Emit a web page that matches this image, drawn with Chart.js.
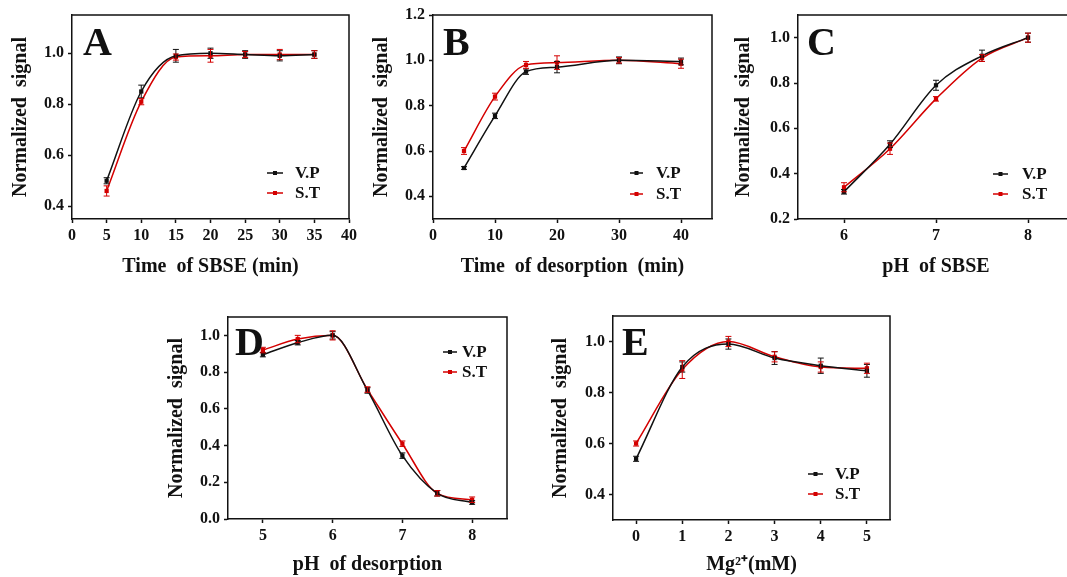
<!DOCTYPE html>
<html>
<head>
<meta charset="utf-8">
<script src="https://cdn.jsdelivr.net/npm/chart.js@4.4.1/dist/chart.umd.min.js"></script>
<style>
  html, body { margin: 0; padding: 0; background: #fff; overflow: hidden; }
  body { width: 1067px; height: 577px; position: relative; }
  .panel { position: absolute; }
</style>
</head>
<body>
<div class="panel" style="left:0px;top:0px;width:360px;height:290px"><canvas id="chartA"></canvas></div>
<div class="panel" style="left:360px;top:0px;width:360px;height:290px"><canvas id="chartB"></canvas></div>
<div class="panel" style="left:715px;top:0px;width:370px;height:290px"><canvas id="chartC"></canvas></div>
<div class="panel" style="left:160px;top:300px;width:360px;height:277px"><canvas id="chartD"></canvas></div>
<div class="panel" style="left:540px;top:300px;width:380px;height:277px"><canvas id="chartE"></canvas></div>

<script>
// Panel A - time of SBSE
const sbseTime = [5, 10, 15, 20, 25, 30, 35];
const sbseTimeVP = [0.50, 0.85, 0.99, 1.00, 0.995, 0.99, 0.995];
const sbseTimeVPErr = [0.012, 0.025, 0.025, 0.02, 0.015, 0.02, 0.015];
const sbseTimeST = [0.46, 0.81, 0.985, 0.99, 0.995, 0.995, 0.995];
const sbseTimeSTErr = [0.02, 0.012, 0.012, 0.025, 0.012, 0.02, 0.015];
const ticksXA = [0, 5, 10, 15, 20, 25, 30, 35, 40];
const ticksYA = [0.4, 0.6, 0.8, 1.0];

// Panel B - time of desorption
const desTime = [5, 10, 15, 20, 30, 40];
const desTimeVP = [0.525, 0.755, 0.95, 0.97, 1.0, 0.995];
const desTimeVPErr = [0.006, 0.012, 0.012, 0.025, 0.015, 0.015];
const desTimeST = [0.60, 0.84, 0.98, 0.99, 1.0, 0.985];
const desTimeSTErr = [0.015, 0.015, 0.015, 0.03, 0.012, 0.02];
const ticksXB = [0, 10, 20, 30, 40];
const ticksYB = [0.4, 0.6, 0.8, 1.0, 1.2];

// Panel C - pH of SBSE
const sbsePH = [6, 6.5, 7, 7.5, 8];
const sbsePHVP = [0.32, 0.53, 0.79, 0.92, 1.0];
const sbsePHVPErr = [0.01, 0.015, 0.022, 0.025, 0.02];
const sbsePHST = [0.34, 0.51, 0.73, 0.91, 1.0];
const sbsePHSTErr = [0.02, 0.025, 0.01, 0.015, 0.02];
const ticksXC = [6, 7, 8];
const ticksYC = [0.2, 0.4, 0.6, 0.8, 1.0];

// Panel D - pH of desorption
const desPH = [5, 5.5, 6, 6.5, 7, 7.5, 8];
const desPHVP = [0.895, 0.96, 1.0, 0.70, 0.345, 0.14, 0.09];
const desPHVPErr = [0.012, 0.012, 0.02, 0.015, 0.015, 0.015, 0.01];
const desPHST = [0.92, 0.98, 1.0, 0.705, 0.41, 0.14, 0.105];
const desPHSTErr = [0.015, 0.02, 0.025, 0.015, 0.015, 0.015, 0.015];
const ticksXD = [5, 6, 7, 8];
const ticksYD = [0.0, 0.2, 0.4, 0.6, 0.8, 1.0];

// Panel E - Mg2+
const mgConc = [0, 1, 2, 3, 4, 5];
const mgVP = [0.54, 0.90, 0.99, 0.935, 0.905, 0.885];
const mgVPErr = [0.01, 0.02, 0.02, 0.025, 0.03, 0.025];
const mgST = [0.60, 0.89, 1.0, 0.94, 0.90, 0.895];
const mgSTErr = [0.01, 0.035, 0.02, 0.02, 0.02, 0.02];
const ticksXE = [0, 1, 2, 3, 4, 5];
const ticksYE = [0.4, 0.6, 0.8, 1.0];

const seriesNames = ['V.P', 'S.T'];
const FONT = '"Liberation Serif", "Times New Roman", serif';
const BLACK = '#111111';
const RED = '#d40000';

const errorBars = {
  id: 'errorBars',
  afterDatasetsDraw(chart) {
    const ctx = chart.ctx;
    const y = chart.scales.y;
    chart.data.datasets.forEach((ds, i) => {
      const meta = chart.getDatasetMeta(i);
      ctx.save();
      ctx.strokeStyle = ds.borderColor;
      ctx.lineWidth = 1;
      meta.data.forEach((pt, j) => {
        const e = ds.err[j];
        const v = ds.data[j].y;
        const top = y.getPixelForValue(v + e);
        const bot = y.getPixelForValue(v - e);
        ctx.beginPath();
        ctx.moveTo(pt.x, top); ctx.lineTo(pt.x, bot);
        ctx.moveTo(pt.x - 3, top); ctx.lineTo(pt.x + 3, top);
        ctx.moveTo(pt.x - 3, bot); ctx.lineTo(pt.x + 3, bot);
        ctx.stroke();
      });
      ctx.restore();
    });
  }
};

const frameAndLabels = {
  id: 'frameAndLabels',
  afterDraw(chart) {
    const ctx = chart.ctx;
    const a = chart.chartArea;
    const o = chart.options.plugins.frameAndLabels;
    ctx.save();
    ctx.strokeStyle = BLACK;
    ctx.lineWidth = 1.5;
    ctx.beginPath();
    ctx.moveTo(a.left, a.top); ctx.lineTo(a.right, a.top); ctx.lineTo(a.right, a.bottom);
    ctx.stroke();

    // panel letter
    ctx.fillStyle = BLACK;
    ctx.font = 'bold 40px ' + FONT;
    ctx.textBaseline = 'alphabetic';
    ctx.textAlign = 'left';
    ctx.fillText(o.letter, o.letterX, o.letterY);

    // legend
    const lg = o.legend;
    ctx.font = 'bold 17px ' + FONT;
    ctx.textBaseline = 'middle';
    chart.data.datasets.forEach((ds, i) => {
      const yy = lg.y + i * lg.gap;
      ctx.strokeStyle = ds.borderColor;
      ctx.lineWidth = 1.5;
      ctx.beginPath();
      ctx.moveTo(lg.x1, yy); ctx.lineTo(lg.x2, yy);
      ctx.stroke();
      ctx.fillStyle = ds.borderColor;
      const mx = (lg.x1 + lg.x2) / 2;
      ctx.fillRect(mx - 2, yy - 2, 4, 4);
      ctx.fillStyle = BLACK;
      ctx.fillText(ds.label, lg.tx, yy + 1);
    });
    ctx.restore();
  }
};

function makeSeries(xs, ys, errs, color, label) {
  return {
    label,
    data: xs.map((x, i) => ({ x, y: ys[i] })),
    err: errs,
    borderColor: color,
    backgroundColor: color,
    borderWidth: 1.5,
    pointStyle: 'rect',
    pointRadius: 3,
    pointBorderWidth: 0,
    cubicInterpolationMode: 'monotone',
    fill: false
  };
}

function buildPanel(id, p) {
  const axisFont = { family: FONT, size: 16, weight: 'bold' };
  const titleFont = { family: FONT, size: 20, weight: 'bold' };
  new Chart(document.getElementById(id), {
    type: 'line',
    data: {
      datasets: [
        makeSeries(p.xs, p.vp, p.vpErr, BLACK, seriesNames[0]),
        makeSeries(p.xs, p.st, p.stErr, RED, seriesNames[1])
      ]
    },
    options: {
      responsive: true,
      maintainAspectRatio: false,
      animation: false,
      layout: { padding: { left: 0, top: p.plotTop, right: p.padRight, bottom: 0 } },
      scales: {
        x: {
          type: 'linear',
          min: p.xMin,
          max: p.xMax,
          afterBuildTicks: s => { s.ticks = p.xTicks.map(v => ({ value: v })); },
          afterFit: s => { s.height = p.xHeight; s.paddingLeft = 0; s.paddingRight = 0; },
          ticks: { font: axisFont, color: BLACK, padding: 3, maxRotation: 0, autoSkip: false,
            callback: v => String(v) },
          grid: { display: true, drawOnChartArea: false, drawTicks: true, tickLength: 4,
            color: BLACK, tickColor: BLACK, tickWidth: 1.5 },
          border: { display: true, color: BLACK, width: 1.5 },
          title: { display: true, text: p.xTitle, font: titleFont, color: BLACK,
            padding: { top: 0, bottom: p.xTitlePad } }
        },
        y: {
          type: 'linear',
          min: p.yMin,
          max: p.yMax,
          afterBuildTicks: s => { s.ticks = p.yTicks.map(v => ({ value: v })); },
          afterFit: s => { s.width = p.plotLeft; s.paddingTop = 0; s.paddingBottom = 0; },
          ticks: { font: axisFont, color: BLACK, padding: 4, autoSkip: false,
            callback: v => v.toFixed(1) },
          grid: { display: true, drawOnChartArea: false, drawTicks: true, tickLength: 4,
            color: BLACK, tickColor: BLACK, tickWidth: 1.5 },
          border: { display: true, color: BLACK, width: 1.5 },
          title: { display: true, text: 'Normalized  signal', font: titleFont, color: BLACK,
            padding: { top: p.yTitlePad, bottom: 0 } }
        }
      },
      plugins: {
        legend: { display: false },
        tooltip: { enabled: false },
        frameAndLabels: { letter: p.letter, letterX: p.letterX, letterY: p.letterY, legend: p.legend }
      }
    },
    plugins: [errorBars, frameAndLabels]
  });
}

buildPanel('chartA', {
  xs: sbseTime, vp: sbseTimeVP, vpErr: sbseTimeVPErr, st: sbseTimeST, stErr: sbseTimeSTErr,
  xMin: 0, xMax: 40, xTicks: ticksXA, yMin: 0.35, yMax: 1.15, yTicks: ticksYA,
  plotLeft: 72, plotTop: 15, padRight: 11, xHeight: 71, xTitlePad: 11, yTitlePad: 9,
  xTitle: 'Time  of SBSE (min)', letter: 'A', letterX: 83, letterY: 55,
  legend: { x1: 267, x2: 283, tx: 295, y: 173, gap: 20 }
});

buildPanel('chartB', {
  xs: desTime, vp: desTimeVP, vpErr: desTimeVPErr, st: desTimeST, stErr: desTimeSTErr,
  xMin: 0, xMax: 45, xTicks: ticksXB, yMin: 0.3, yMax: 1.2, yTicks: ticksYB,
  plotLeft: 73, plotTop: 15, padRight: 8, xHeight: 71, xTitlePad: 11, yTitlePad: 10,
  xTitle: 'Time  of desorption  (min)', letter: 'B', letterX: 83, letterY: 55,
  legend: { x1: 270, x2: 283, tx: 296, y: 173, gap: 21 }
});

buildPanel('chartC', {
  xs: sbsePH, vp: sbsePHVP, vpErr: sbsePHVPErr, st: sbsePHST, stErr: sbsePHSTErr,
  xMin: 5.5, xMax: 8.5, xTicks: ticksXC, yMin: 0.2, yMax: 1.1, yTicks: ticksYC,
  plotLeft: 83, plotTop: 15, padRight: 11, xHeight: 71, xTitlePad: 11, yTitlePad: 17,
  xTitle: 'pH  of SBSE', letter: 'C', letterX: 92, letterY: 55,
  legend: { x1: 278, x2: 293, tx: 307, y: 174, gap: 20 }
});

buildPanel('chartD', {
  xs: desPH, vp: desPHVP, vpErr: desPHVPErr, st: desPHST, stErr: desPHSTErr,
  xMin: 4.5, xMax: 8.5, xTicks: ticksXD, yMin: 0, yMax: 1.1, yTicks: ticksYD,
  plotLeft: 68, plotTop: 17, padRight: 13, xHeight: 58, xTitlePad: 0, yTitlePad: 5,
  xTitle: 'pH  of desorption', letter: 'D', letterX: 75, letterY: 55,
  legend: { x1: 283, x2: 297, tx: 302, y: 52, gap: 20 }
});

buildPanel('chartE', {
  xs: mgConc, vp: mgVP, vpErr: mgVPErr, st: mgST, stErr: mgSTErr,
  xMin: -0.5, xMax: 5.5, xTicks: ticksXE, yMin: 0.3, yMax: 1.1, yTicks: ticksYE,
  plotLeft: 73, plotTop: 16, padRight: 30, xHeight: 57, xTitlePad: 0, yTitlePad: 9,
  xTitle: 'Mg²⁺(mM)', letter: 'E', letterX: 82, letterY: 55,
  legend: { x1: 268, x2: 283, tx: 295, y: 174, gap: 20 }
});
</script>
</body>
</html>
